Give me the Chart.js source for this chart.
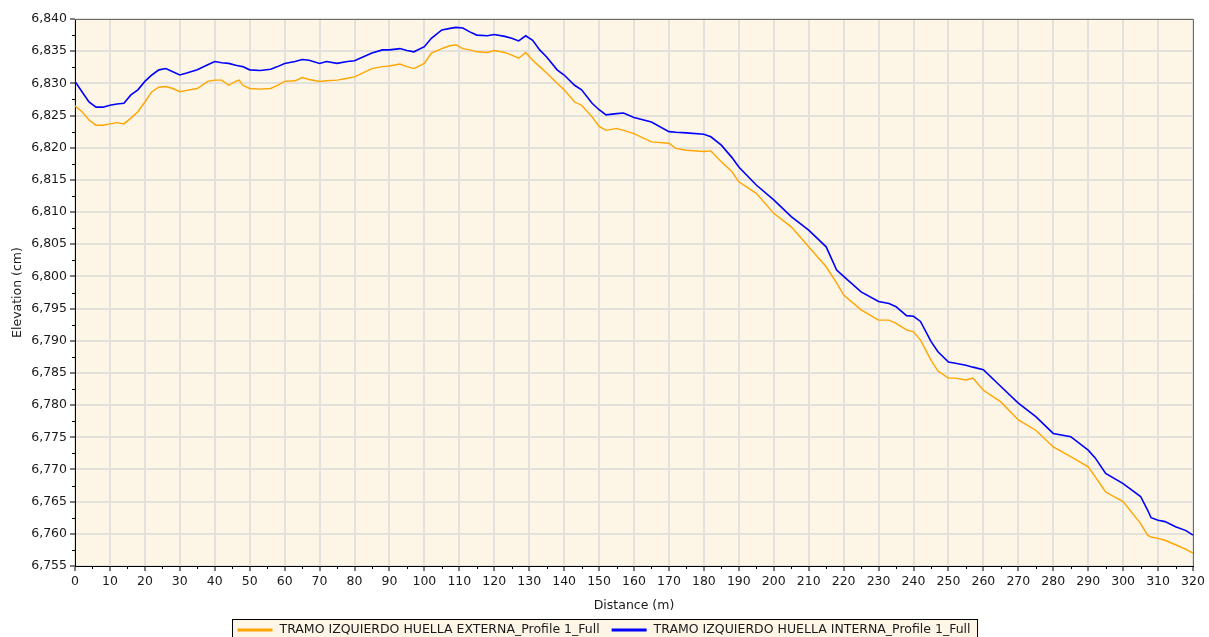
<!DOCTYPE html>
<html>
<head>
<meta charset="utf-8">
<script src="https://cdn.jsdelivr.net/npm/chart.js@4/dist/chart.umd.min.js"></script>
<style>
  html, body { margin: 0; padding: 0; background: #ffffff; }
  #wrap { width: 1209px; height: 637px; position: relative; }
</style>
</head>
<body>
<div id="wrap"><canvas id="profileChart"></canvas></div>
<script>
// distance along the profile (m)
const distance = [0, 2, 4, 6, 8, 10, 12, 14, 16, 18, 20, 22, 24, 26, 28, 30, 32, 35, 38, 40,
  42, 44, 46, 47, 48, 50, 53, 56, 58, 60, 63, 65, 67, 70, 72, 75, 78, 80, 85, 88,
  90, 93, 95, 97, 100, 102, 105, 107, 109, 111, 113, 115, 118, 120, 123, 125, 127, 129, 131, 133,
  135, 138, 140, 143, 145, 148, 150, 152, 155, 157, 160, 165, 170, 172, 175, 180, 182, 185, 188, 190,
  195, 200, 205, 210, 215, 218, 220, 225, 230, 233, 235, 238, 240, 242, 245, 247, 250, 252, 255, 257,
  260, 265, 270, 275, 280, 285, 290, 292, 295, 300, 305, 307, 308, 310, 312, 315, 318, 320];

// elevation (cm) - huella externa
const externa = [6826.5, 6825.6, 6824.3, 6823.5, 6823.5, 6823.7, 6823.9, 6823.7, 6824.6, 6825.6, 6827.1, 6828.7, 6829.4, 6829.5, 6829.2, 6828.7, 6828.9, 6829.2, 6830.3, 6830.5,
  6830.5, 6829.7, 6830.3, 6830.5, 6829.7, 6829.2, 6829.1, 6829.2, 6829.7, 6830.3, 6830.4, 6830.9, 6830.6, 6830.3, 6830.4, 6830.5, 6830.8, 6831.0, 6832.3, 6832.6,
  6832.7, 6833.0, 6832.6, 6832.3, 6833.1, 6834.7, 6835.4, 6835.8, 6836.0, 6835.4, 6835.2, 6834.9, 6834.8, 6835.1, 6834.8, 6834.4, 6833.9, 6834.8, 6833.6, 6832.6,
  6831.6, 6830.0, 6829.0, 6827.1, 6826.6, 6824.8, 6823.3, 6822.7, 6823.0, 6822.7, 6822.2, 6820.9, 6820.7, 6819.9, 6819.6, 6819.4, 6819.5, 6817.8, 6816.3, 6814.7,
  6812.9, 6809.8, 6807.7, 6804.6, 6801.5, 6799.0, 6797.1, 6794.8, 6793.2, 6793.2, 6792.7, 6791.7, 6791.4, 6790.1, 6787.0, 6785.3, 6784.2, 6784.2, 6783.9, 6784.2,
  6782.3, 6780.5, 6777.7, 6776.1, 6773.5, 6772.0, 6770.4, 6768.9, 6766.5, 6765.0, 6761.6, 6759.8, 6759.5, 6759.3, 6759.0, 6758.3, 6757.6, 6757.0];

// elevation (cm) - huella interna
const interna = [6830.3, 6828.7, 6827.1, 6826.3, 6826.3, 6826.6, 6826.8, 6826.9, 6828.2, 6829.0, 6830.3, 6831.3, 6832.1, 6832.3, 6831.8, 6831.3, 6831.6, 6832.1, 6832.9, 6833.4,
  6833.2, 6833.1, 6832.8, 6832.7, 6832.6, 6832.1, 6832.0, 6832.2, 6832.6, 6833.1, 6833.4, 6833.7, 6833.6, 6833.1, 6833.4, 6833.1, 6833.4, 6833.5, 6834.7, 6835.2,
  6835.2, 6835.4, 6835.1, 6834.9, 6835.7, 6837.0, 6838.3, 6838.5, 6838.7, 6838.6, 6838.0, 6837.5, 6837.4, 6837.6, 6837.3, 6837.0, 6836.6, 6837.4, 6836.7, 6835.2,
  6834.1, 6832.1, 6831.3, 6829.7, 6829.0, 6826.9, 6825.9, 6825.1, 6825.3, 6825.4, 6824.7, 6824.0, 6822.5, 6822.4, 6822.3, 6822.1, 6821.7, 6820.4, 6818.5, 6817.0,
  6814.2, 6811.9, 6809.3, 6807.2, 6804.6, 6801.0, 6800.0, 6797.6, 6796.1, 6795.8, 6795.3, 6793.9, 6793.8, 6793.0, 6789.9, 6788.3, 6786.7, 6786.5, 6786.2, 6785.9,
  6785.5, 6782.9, 6780.3, 6778.2, 6775.6, 6775.1, 6773.0, 6771.8, 6769.4, 6767.8, 6765.8, 6763.7, 6762.5, 6762.1, 6761.9, 6761.1, 6760.5, 6759.8];

const seriesNames = ['TRAMO IZQUIERDO HUELLA EXTERNA_Profile 1_Full', 'TRAMO IZQUIERDO HUELLA INTERNA_Profile 1_Full'];
const seriesColors = ['#FFA500', '#0000FF'];

const FONT = 'DejaVu Sans';

function toPoints(values) {
  return distance.map((d, i) => ({ x: d, y: values[i] }));
}

// plot background, outer frame, minor ticks and the boxed legend
const decorations = {
  id: 'decorations',
  beforeDraw(chart) {
    const { ctx, chartArea: a } = chart;
    ctx.save();
    ctx.fillStyle = '#FDF5E6';
    ctx.fillRect(a.left, a.top, a.right - a.left, a.bottom - a.top);
    ctx.restore();
  },
  afterDraw(chart) {
    const { ctx, chartArea: a } = chart;
    const xs = chart.scales.x, ys = chart.scales.y;
    ctx.save();
    // top / right frame
    ctx.strokeStyle = '#6a6a6a';
    ctx.lineWidth = 1;
    ctx.beginPath();
    ctx.moveTo(a.left, a.top + 0.5);
    ctx.lineTo(a.right + 0.5, a.top + 0.5);
    ctx.lineTo(a.right + 0.5, a.bottom);
    ctx.stroke();

    // minor ticks
    ctx.strokeStyle = '#000000';
    ctx.beginPath();
    for (let v = 6757.5; v < 6840; v += 5) {
      const py = Math.round(ys.getPixelForValue(v)) + 0.5;
      ctx.moveTo(a.left - 3, py);
      ctx.lineTo(a.left, py);
    }
    for (let d = 5; d < 320; d += 10) {
      const px = Math.round(xs.getPixelForValue(d)) + 0.5;
      ctx.moveTo(px, a.bottom);
      ctx.lineTo(px, a.bottom + 3);
    }
    ctx.stroke();

    // legend
    ctx.font = '12.5px "' + FONT + '"';
    const lineLen = 35, gapBefore = 5, gapAfter = 7, itemGap = 7;
    const widths = seriesNames.map(n => ctx.measureText(n).width);
    let total = 0;
    widths.forEach(w => { total += gapBefore + lineLen + gapAfter + w + itemGap; });
    const boxLeft = Math.round(chart.width / 2 - total / 2) + 0.5;
    const boxTop = 619.5;
    ctx.fillStyle = '#FDF5E6';
    ctx.fillRect(boxLeft, boxTop, total, 24);
    ctx.strokeStyle = '#000000';
    ctx.strokeRect(boxLeft, boxTop, total, 24);
    let cx = boxLeft;
    const midY = 630;
    seriesNames.forEach((n, i) => {
      cx += gapBefore;
      ctx.fillStyle = seriesColors[i];
      ctx.fillRect(cx, midY - 1.5, lineLen, 3);
      cx += lineLen + gapAfter;
      ctx.fillStyle = '#1a1a1a';
      ctx.textBaseline = 'middle';
      ctx.textAlign = 'left';
      ctx.fillText(n, cx, midY);
      cx += widths[i] + itemGap;
    });
    ctx.restore();
  }
};

new Chart(document.getElementById('profileChart'), {
  type: 'line',
  data: {
    datasets: [
      {
        label: seriesNames[0],
        data: toPoints(externa),
        borderColor: seriesColors[0],
        backgroundColor: seriesColors[0],
        borderWidth: 1.4,
        pointRadius: 0,
        tension: 0,
        fill: false
      },
      {
        label: seriesNames[1],
        data: toPoints(interna),
        borderColor: seriesColors[1],
        backgroundColor: seriesColors[1],
        borderWidth: 1.6,
        pointRadius: 0,
        tension: 0,
        fill: false
      }
    ]
  },
  options: {
    responsive: true,
    maintainAspectRatio: false,
    animation: false,
    layout: {
      padding: { top: 19, right: 16, bottom: 20, left: 0 }
    },
    plugins: {
      legend: { display: false },
      tooltip: { enabled: false }
    },
    scales: {
      x: {
        type: 'linear',
        min: 0,
        max: 320,
        afterFit(scale) { scale.height = 51; },
        border: { color: '#000000', width: 1 },
        grid: {
          color: '#E3E1DC',
          lineWidth: 2,
          tickColor: '#000000',
          tickWidth: 1,
          tickLength: 5
        },
        ticks: {
          stepSize: 10,
          autoSkip: false,
          maxRotation: 0,
          padding: 3,
          color: '#1a1a1a',
          font: { family: FONT, size: 12.5 }
        },
        title: {
          display: true,
          text: 'Distance (m)',
          color: '#1a1a1a',
          padding: { top: 0, bottom: 3.5 },
          font: { family: FONT, size: 12.5 }
        }
      },
      y: {
        min: 6755,
        max: 6840,
        afterFit(scale) { scale.width = 75; },
        border: { color: '#000000', width: 1 },
        grid: {
          color: '#E3E1DC',
          lineWidth: 2,
          tickColor: '#000000',
          tickWidth: 1,
          tickLength: 5
        },
        ticks: {
          stepSize: 5,
          padding: 3,
          color: '#1a1a1a',
          font: { family: FONT, size: 12.5 },
          callback: v => v.toLocaleString('en-US')
        },
        title: {
          display: true,
          text: 'Elevation (cm)',
          color: '#1a1a1a',
          padding: { top: 10, bottom: 0 },
          font: { family: FONT, size: 12.5 }
        }
      }
    }
  },
  plugins: [decorations]
});
</script>
</body>
</html>
